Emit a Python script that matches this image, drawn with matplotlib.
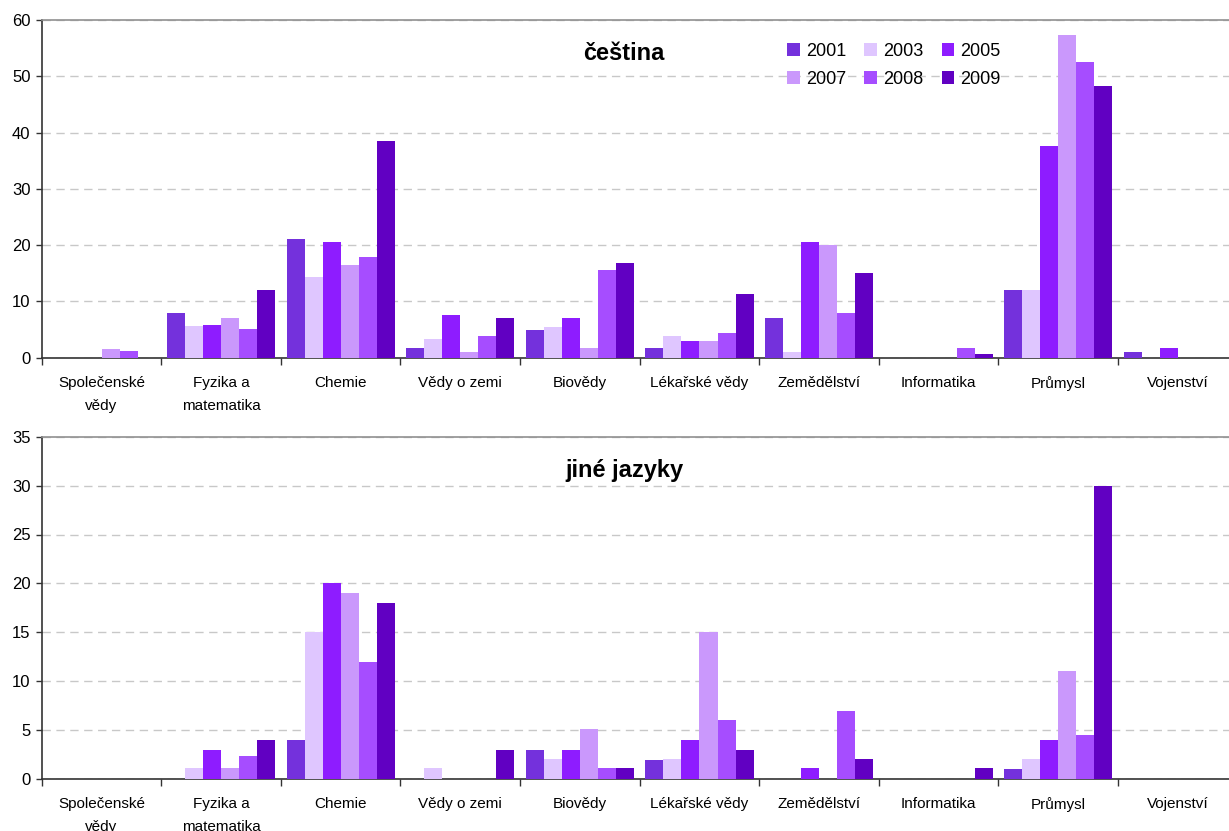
import numpy as np
import matplotlib
matplotlib.use("Agg")
import matplotlib.pyplot as plt
from matplotlib.patches import Patch

plt.rcParams['font.family'] = ['Liberation Sans', 'DejaVu Sans']

categories = ["Společenské\nvědy", "Fyzika a\nmatematika", "Chemie", "Vědy o zemi",
              "Biovědy", "Lékařské vědy", "Zemědělství", "Informatika",
              "Průmysl", "Vojenství"]
years = ["2001", "2003", "2005", "2007", "2008", "2009"]
colors = ["#7431DC", "#DFC6FF", "#8E1CFF", "#CA98FC", "#A64DFF", "#6100C2"]

# čeština — one list per year, values per category
cz_2001 = [0, 8.0, 21.1, 1.8, 5.0, 1.8, 7.0, 0, 12.0, 1.1]
cz_2003 = [0, 5.6, 14.3, 3.4, 5.5, 3.9, 1.1, 0, 12.0, 0]
cz_2005 = [0, 5.8, 20.6, 7.5, 7.0, 2.9, 20.6, 0, 37.7, 1.8]
cz_2007 = [1.5, 7.0, 16.5, 1.1, 1.8, 2.9, 20.0, 0, 57.3, 0]
cz_2008 = [1.2, 5.1, 17.9, 3.9, 15.5, 4.3, 7.9, 1.8, 52.6, 0]
cz_2009 = [0, 12.0, 38.5, 7.0, 16.8, 11.3, 15.0, 0.6, 48.2, 0]

# jiné jazyky
ot_2001 = [0, 0, 4.0, 0, 3.0, 1.9, 0, 0, 1.0, 0]
ot_2003 = [0, 1.1, 15.0, 1.1, 2.0, 2.0, 0, 0, 2.0, 0]
ot_2005 = [0, 3.0, 20.0, 0, 3.0, 4.0, 1.1, 0, 4.0, 0]
ot_2007 = [0, 1.1, 19.0, 0, 5.1, 15.0, 0, 0, 11.0, 0]
ot_2008 = [0, 2.4, 12.0, 0, 1.1, 6.0, 7.0, 0, 4.5, 0]
ot_2009 = [0, 4.0, 18.0, 3.0, 1.1, 3.0, 2.0, 1.1, 30.0, 0]

cz_series = [cz_2001, cz_2003, cz_2005, cz_2007, cz_2008, cz_2009]
ot_series = [ot_2001, ot_2003, ot_2005, ot_2007, ot_2008, ot_2009]

W, H = 1229, 831
fig = plt.figure(figsize=(W / 100, H / 100), dpi=100)

ax_w = 1196 / W
ax_top = fig.add_axes([41.7 / W, 1 - 357.7 / H, ax_w, (357.7 - 20) / H])
ax_bot = fig.add_axes([41.7 / W, 1 - 779 / H, ax_w, (779 - 436.7) / H])

x = np.arange(len(categories))
bw = 0.151


def draw(ax, series, ymax, ystep, title):
    for i, (vals, c) in enumerate(zip(series, colors)):
        ax.bar(x + (i - 2.5) * bw, vals, width=bw, color=c, edgecolor="none",
               zorder=3, label=years[i])
    ax.set_xlim(-0.5, len(categories) - 0.5)
    ax.set_ylim(0, ymax)
    ax.set_yticks(np.arange(0, ymax + 0.01, ystep))
    ax.yaxis.grid(True, color="#C8C8C8", linestyle=(0, (6, 4)), linewidth=1.0, zorder=0)
    ax.set_axisbelow(True)
    ax.set_xticks(np.arange(len(categories) + 1) - 0.5)
    ax.set_xticklabels([])
    ax.set_xticks(x, minor=True)
    ax.set_xticklabels(categories, minor=True, fontsize=11, linespacing=1.8)
    ax.tick_params(axis="x", which="major", length=5, width=1, color="#333333", direction="out")
    ax.tick_params(axis="x", which="minor", length=0, pad=13)
    ax.tick_params(axis="y", length=4, width=1, color="#333333", labelsize=12, pad=4)
    ax.spines["left"].set_color("#333333")
    ax.spines["bottom"].set_color("#333333")
    ax.spines["top"].set_color("#909090")
    ax.spines["right"].set_color("#909090")
    for s in ax.spines.values():
        s.set_linewidth(1.2)
    ax.text(0.487, 0.9, title, transform=ax.transAxes, ha="center", va="center",
            fontsize=17, fontweight="bold")


draw(ax_top, cz_series, 60, 10, "čeština")
draw(ax_bot, ot_series, 35, 5, "jiné jazyky")

# legend laid out row by row: 2001 2003 2005 / 2007 2008 2009
order = [0, 3, 1, 4, 2, 5]
handles = [Patch(facecolor=colors[i], edgecolor="none") for i in order]
labels = [years[i] for i in order]
ax_top.legend(handles, labels, ncol=3, loc="upper left",
              bbox_to_anchor=(787 / W, 1 - 43 / H), bbox_transform=fig.transFigure,
              frameon=False, fontsize=13, handlelength=0.7, handleheight=0.7,
              handletextpad=0.35, columnspacing=1.0, labelspacing=0.6,
              borderaxespad=0, borderpad=0)

fig.savefig("out.png", dpi=100)
